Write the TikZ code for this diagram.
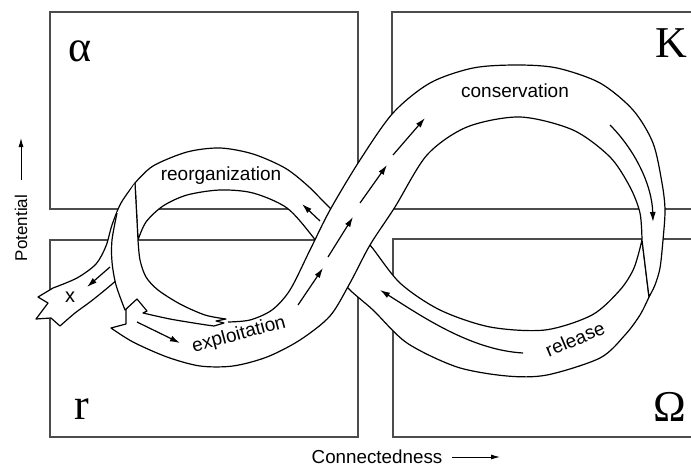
\documentclass[tikz,border=0pt]{standalone}
\usepackage{fontspec}
\setmainfont{Liberation Sans}
\newfontfamily\greekfont{Liberation Serif}
\usetikzlibrary{arrows.meta}

\begin{document}
\begin{tikzpicture}[x=0.5pt, y=0.5pt,
    boxline/.style={draw=black!70, line width=0.6pt},
    ribbon/.style={draw=black, fill=white, line width=0.6pt, line join=round},
    flow/.style={-{Latex[length=5pt,width=3pt]}, line width=0.6pt},
    axisarrow/.style={-{Latex[length=4.5pt,width=2.5pt]}, line width=0.5pt},
    bigletter/.style={font=\greekfont\fontsize{22}{24}\selectfont, inner sep=0pt},
    axislabel/.style={font=\fontsize{9.4}{11}\selectfont, inner sep=0pt},
    bandlabel/.style={font=\fontsize{9.5}{11}\selectfont, inner sep=0pt}]
    \useasboundingbox (0,0) rectangle (691,-466);

    % the four phases
    \draw[boxline] (50,-12) rectangle (358,-209);
    \draw[boxline] (50,-240) rectangle (358,-437);
    \draw[boxline] (691,-12) -- (392,-12) -- (392,-209) -- (691,-209);
    \draw[boxline] (691,-239) -- (393,-239) -- (393,-437) -- (691,-437);

    % back strand: release to reorganization
    \draw[ribbon] plot[smooth] coordinates {(642,-240) (634,-268) (620,-290) (592,-315) (545,-330) (490,-327) (440,-310) (400,-283) (370,-245) (350,-225) (330,-208) (308,-186) (285,-168) (253,-154) (220,-148) (187,-152) (153,-166) (135,-183)}
        -- plot[smooth] coordinates {(138,-240) (146,-222) (163,-206) (187,-195) (220,-190) (253,-193) (287,-208) (313,-237) (330,-262) (347,-287) (373,-310) (407,-343) (457,-367) (507,-376) (547,-375) (600,-358) (625,-335) (640,-315) (649,-297)}
        -- cycle;

    % front strand: exploitation to conservation
    \draw[ribbon] (126,-308) -- (126,-324) -- (111,-328)
        -- plot[smooth] coordinates {(111,-328) (133,-342) (167,-357) (200,-366) (233,-366) (267,-357) (300,-340) (330,-316) (350,-283) (370,-245) (395,-207) (427,-155) (467,-127) (520,-117) (573,-130) (610,-157) (630,-187) (640,-213) (642,-240)}
        -- (649,-297)
        -- plot[smooth] coordinates {(649,-297) (655,-285) (660,-268) (663,-240) (665,-210) (662,-183) (653,-143) (633,-110) (600,-83) (557,-68) (517,-65) (473,-68) (430,-83) (393,-113) (360,-160) (330,-210) (310,-250) (290,-290) (272,-310) (250,-320) (228,-322)};

    % leak out of the cycle
    \draw[ribbon] plot[smooth] coordinates {(135,-183) (121,-203) (112,-225) (106,-246) (96,-264) (77,-278) (53,-288)}
        -- (38,-297) -- (48,-303) -- (36,-319) -- (51,-318) -- (60,-326)
        -- plot[smooth] coordinates {(60,-326) (75,-313) (90,-302) (105,-290) (118,-279)};

    % torn end of reorganization
    \draw[ribbon] plot[smooth] coordinates {(117,-213) (112,-240) (112,-262) (116,-285) (125,-310)}
        -- (137,-299) -- (147,-311) -- (143,-313)
        -- plot[smooth] coordinates {(143,-313) (170,-319) (200,-324) (214,-326)}
        -- (224,-323) -- (216,-321) -- (226,-319)
        -- plot[smooth] coordinates {(226,-319) (205,-315) (180,-304) (158,-290) (146,-277) (140,-260) (138,-240)}
        -- (135,-183);

    % flow arrows
    \draw[flow] (298,-305) -- (323,-268);
    \draw[flow] (328,-257) -- (353,-217);
    \draw[flow] (360,-203) -- (387,-165);
    \draw[flow] (393,-155) -- (425,-118);
    \draw[flow] (610,-125) .. controls (635,-150) and (652,-185) .. (653,-222);
    \draw[flow] (523,-353) .. controls (470,-350) and (420,-315) .. (380,-290);
    \draw[flow] (320,-221) -- (302,-204);
    \draw[flow] (137,-322) -- (180,-343);
    \draw[flow] (110,-267) -- (87,-287);

    % phase names
    \node[bandlabel] (conservation) at (515,-91) {conservation};
    \node[bandlabel] (reorganization) at (221,-176) {reorganization};
    \node[bandlabel, rotate=15] (exploitation) at (239,-335) {exploitation};
    \node[bandlabel, rotate=23] (release) at (575,-339) {release};
    \node[font=\fontsize{10}{12}\selectfont, inner sep=0pt] (leak) at (70,-297) {x};

    \node[bigletter] (alpha) at (80,-51) {α};
    \node[bigletter] (kay) at (671,-43) {K};
    \node[bigletter] (ar) at (82,-409) {r};
    \node[bigletter] (omega) at (670,-407) {Ω};

    % axes
    \node[axislabel, font=\fontsize{8.5}{10}\selectfont, rotate=90] (potential) at (21,-228) {Potential};
    \coordinate (potentialtip) at (21,-138);
    \draw[axisarrow] ([yshift=7.5pt]potential.east) -- (potentialtip);
    \node[axislabel] (connectedness) at (377,-457) {Connectedness};
    \coordinate (connectednesstip) at (500,-457);
    \draw[axisarrow] ([xshift=4.5pt]connectedness.east) -- (connectednesstip);
\end{tikzpicture}
\end{document}
